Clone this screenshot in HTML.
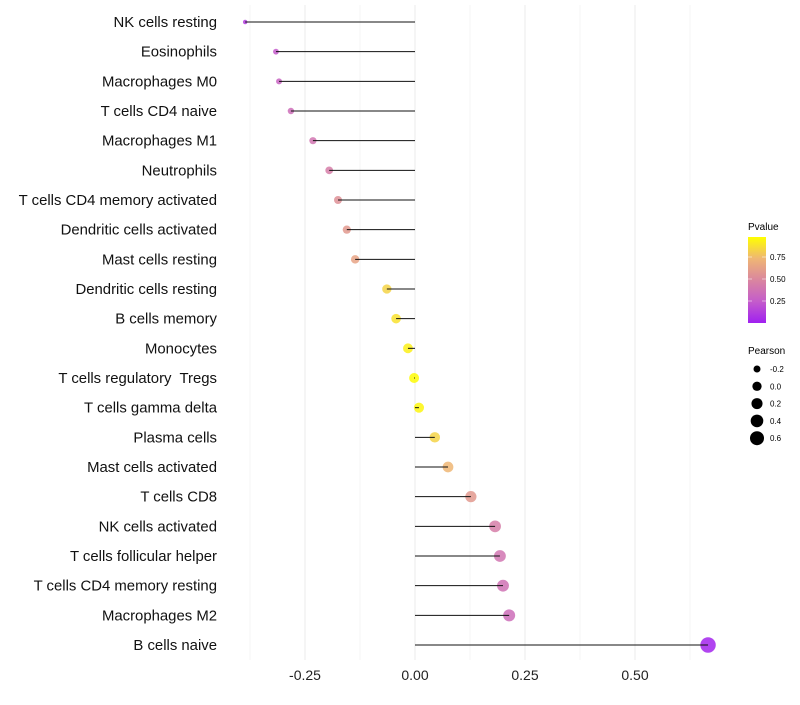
<!DOCTYPE html>
<html><head><meta charset="utf-8"><style>
body{margin:0;background:#fff;font-family:"Liberation Sans",sans-serif}
text{white-space:pre}
</style></head><body>
<svg id="chart" width="800" height="700" xmlns="http://www.w3.org/2000/svg">
<defs><linearGradient id="pg" x1="0" y1="1" x2="0" y2="0">
<stop offset="0" stop-color="#A020F0"/><stop offset="0.25" stop-color="#C45CCB"/><stop offset="0.5" stop-color="#DA869F"/><stop offset="0.75" stop-color="#EFB674"/><stop offset="1" stop-color="#FFFF00"/>
</linearGradient></defs>
<g id="grid"></g><g id="dots"></g><g id="marks"></g><g id="labels"></g>
<g>
<text x="748" y="230" font-size="10">Pvalue</text>
<rect x="748" y="237" width="18" height="86" fill="url(#pg)"/>
<line x1="748" x2="752" y1="257" y2="257" stroke="#fff" stroke-opacity=".5"/><line x1="762" x2="766" y1="257" y2="257" stroke="#fff" stroke-opacity=".5"/>
<line x1="748" x2="752" y1="279" y2="279" stroke="#fff" stroke-opacity=".5"/><line x1="762" x2="766" y1="279" y2="279" stroke="#fff" stroke-opacity=".5"/>
<line x1="748" x2="752" y1="301" y2="301" stroke="#fff" stroke-opacity=".5"/><line x1="762" x2="766" y1="301" y2="301" stroke="#fff" stroke-opacity=".5"/>
<text x="770" y="260" font-size="8">0.75</text><text x="770" y="282" font-size="8">0.50</text><text x="770" y="304" font-size="8">0.25</text>
</g>
<g id="sizeLegend"><text x="748" y="354" font-size="10">Pearson</text></g>
</svg>
<script>
const categories=["NK cells resting","Eosinophils","Macrophages M0","T cells CD4 naive","Macrophages M1","Neutrophils","T cells CD4 memory activated","Dendritic cells activated","Mast cells resting","Dendritic cells resting","B cells memory","Monocytes","T cells regulatory  Tregs","T cells gamma delta","Plasma cells","Mast cells activated","T cells CD8","NK cells activated","T cells follicular helper","T cells CD4 memory resting","Macrophages M2","B cells naive"];
const pearson=[-0.386,-0.316,-0.309,-0.282,-0.232,-0.195,-0.175,-0.155,-0.136,-0.064,-0.043,-0.016,-0.002,0.009,0.045,0.075,0.127,0.182,0.193,0.2,0.214,0.666];
const pvalues=[0.12,0.25,0.3,0.35,0.4,0.45,0.55,0.6,0.65,0.85,0.9,0.95,0.99,0.97,0.85,0.75,0.6,0.45,0.4,0.38,0.35,0.02];
const xTicks=[-0.25,0,0.25,0.5];
const xTickLabels=["-0.25","0.00","0.25","0.50"];
const sizeLegendValues=[-0.2,0,0.2,0.4,0.6];
const NS="http://www.w3.org/2000/svg";
const xs=v=>415+v*440;
const ys=i=>22+i*(623/21);
const rad=v=>Math.sqrt(Math.max(3,25+v*52));
const legRad=v=>Math.sqrt(12.25+(v+0.2)*46);
const stops=[[0,[160,32,240]],[0.25,[196,92,203]],[0.5,[218,134,159]],[0.75,[239,182,116]],[1,[255,255,0]]];
function col(p){for(let k=1;k<stops.length;k++){if(p<=stops[k][0]){const a=stops[k-1],b=stops[k],t=(p-a[0])/(b[0]-a[0]);return "rgb("+a[1].map((c,j)=>Math.round(c+(b[1][j]-c)*t)).join(",")+")";}}return "rgb(255,255,0)";}
function mk(t,at,parent){const e=document.createElementNS(NS,t);for(const k in at)e.setAttribute(k,at[k]);parent.appendChild(e);return e;}
const grid=document.getElementById("grid"),marks=document.getElementById("marks"),dots=document.getElementById("dots"),labels=document.getElementById("labels");
for(let v=-0.375;v<=0.63;v+=0.125){const g=mk("line",{x1:xs(v),x2:xs(v),y1:5,y2:660,stroke:"#ebebeb","stroke-width":Math.abs(v*8%2)<0.01?1:0.5},grid);

}
xTicks.forEach((v,i)=>{const t=mk("text",{x:xs(v),y:680,"font-size":14,"text-anchor":"middle",fill:"#222"},labels);t.textContent=xTickLabels[i];

});
categories.forEach((c,i)=>{const y=ys(i);
const t=mk("text",{x:217,y:y+5,"font-size":14.9,"text-anchor":"end",fill:"#111"},labels);t.textContent=c;


const d=mk("circle",{cx:xs(pearson[i]),cy:y,r:rad(pearson[i]),fill:col(pvalues[i]),"fill-opacity":0.85},dots);


const l=mk("line",{x1:xs(0),x2:xs(pearson[i]),y1:y,y2:y,stroke:"#111","stroke-width":1},marks);

});
const sl=document.getElementById("sizeLegend");
sizeLegendValues.forEach((v,i)=>{const y=369+i*17.3;
const c=mk("circle",{cx:757,cy:y,r:legRad(v),fill:"#000"},sl);


const t=mk("text",{x:770,y:y+3,"font-size":8},sl);t.textContent=v.toFixed(1);

});
</script>
</body></html>
